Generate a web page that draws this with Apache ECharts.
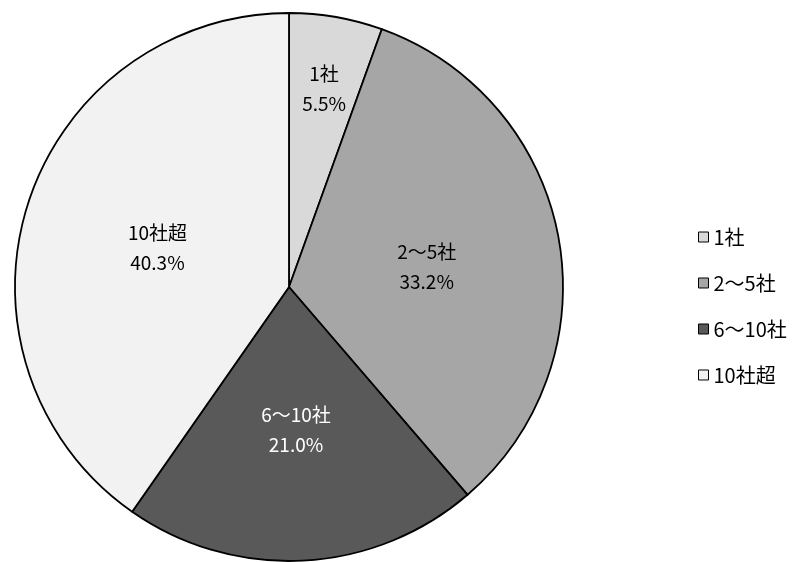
<!DOCTYPE html>
<html><head><meta charset="utf-8">
<script src="https://cdn.jsdelivr.net/npm/echarts@6/dist/echarts.min.js"></script>
<style>html,body{margin:0;padding:0;background:#fff}#c{width:798px;height:562px}</style>
</head><body><div id="c"></div>
<script>
const categories = ['1社', '2～5社', '6～10社', '10社超'];
const values = [5.5, 33.2, 21.0, 40.3];
const colors = ['#d9d9d9', '#a6a6a6', '#595959', '#f2f2f2'];
const labelColors = ['#000', '#000', '#fff', '#000'];
const labelOffsets = [[11, -60], [0, 5], [0, 3], [2, 3]];

const FONT = '"Noto Sans CJK JP", "Noto Sans", sans-serif';
const chart = echarts.init(document.getElementById('c'), null, {renderer: 'canvas'});
chart.setOption({
  animation: false,
  legend: {
    orient: 'vertical', left: 693, top: 222, itemWidth: 10, itemHeight: 10, itemGap: 26,
    icon: 'rect', data: categories,
    textStyle: {fontFamily: FONT, fontSize: 20, color: '#000', lineHeight: 19},
    itemStyle: {borderColor: '#000', borderWidth: 1}
  },
  series: [{
    type: 'pie', center: [289, 287], radius: [0, 274], startAngle: 90, clockwise: true,
    avoidLabelOverlap: false, silent: true,
    itemStyle: {borderColor: '#000', borderWidth: 1.8},
    label: {position: 'inside', fontFamily: FONT, fontSize: 19, lineHeight: 30},
    labelLine: {show: false},
    emphasis: {disabled: true},
    data: categories.map((c, i) => ({
      name: c, value: values[i],
      itemStyle: {color: colors[i]},
      label: {color: labelColors[i], offset: labelOffsets[i],
        formatter: p => p.name + '\n' + values[i].toFixed(1) + '%'}
    }))
  }]
});
</script></body></html>
